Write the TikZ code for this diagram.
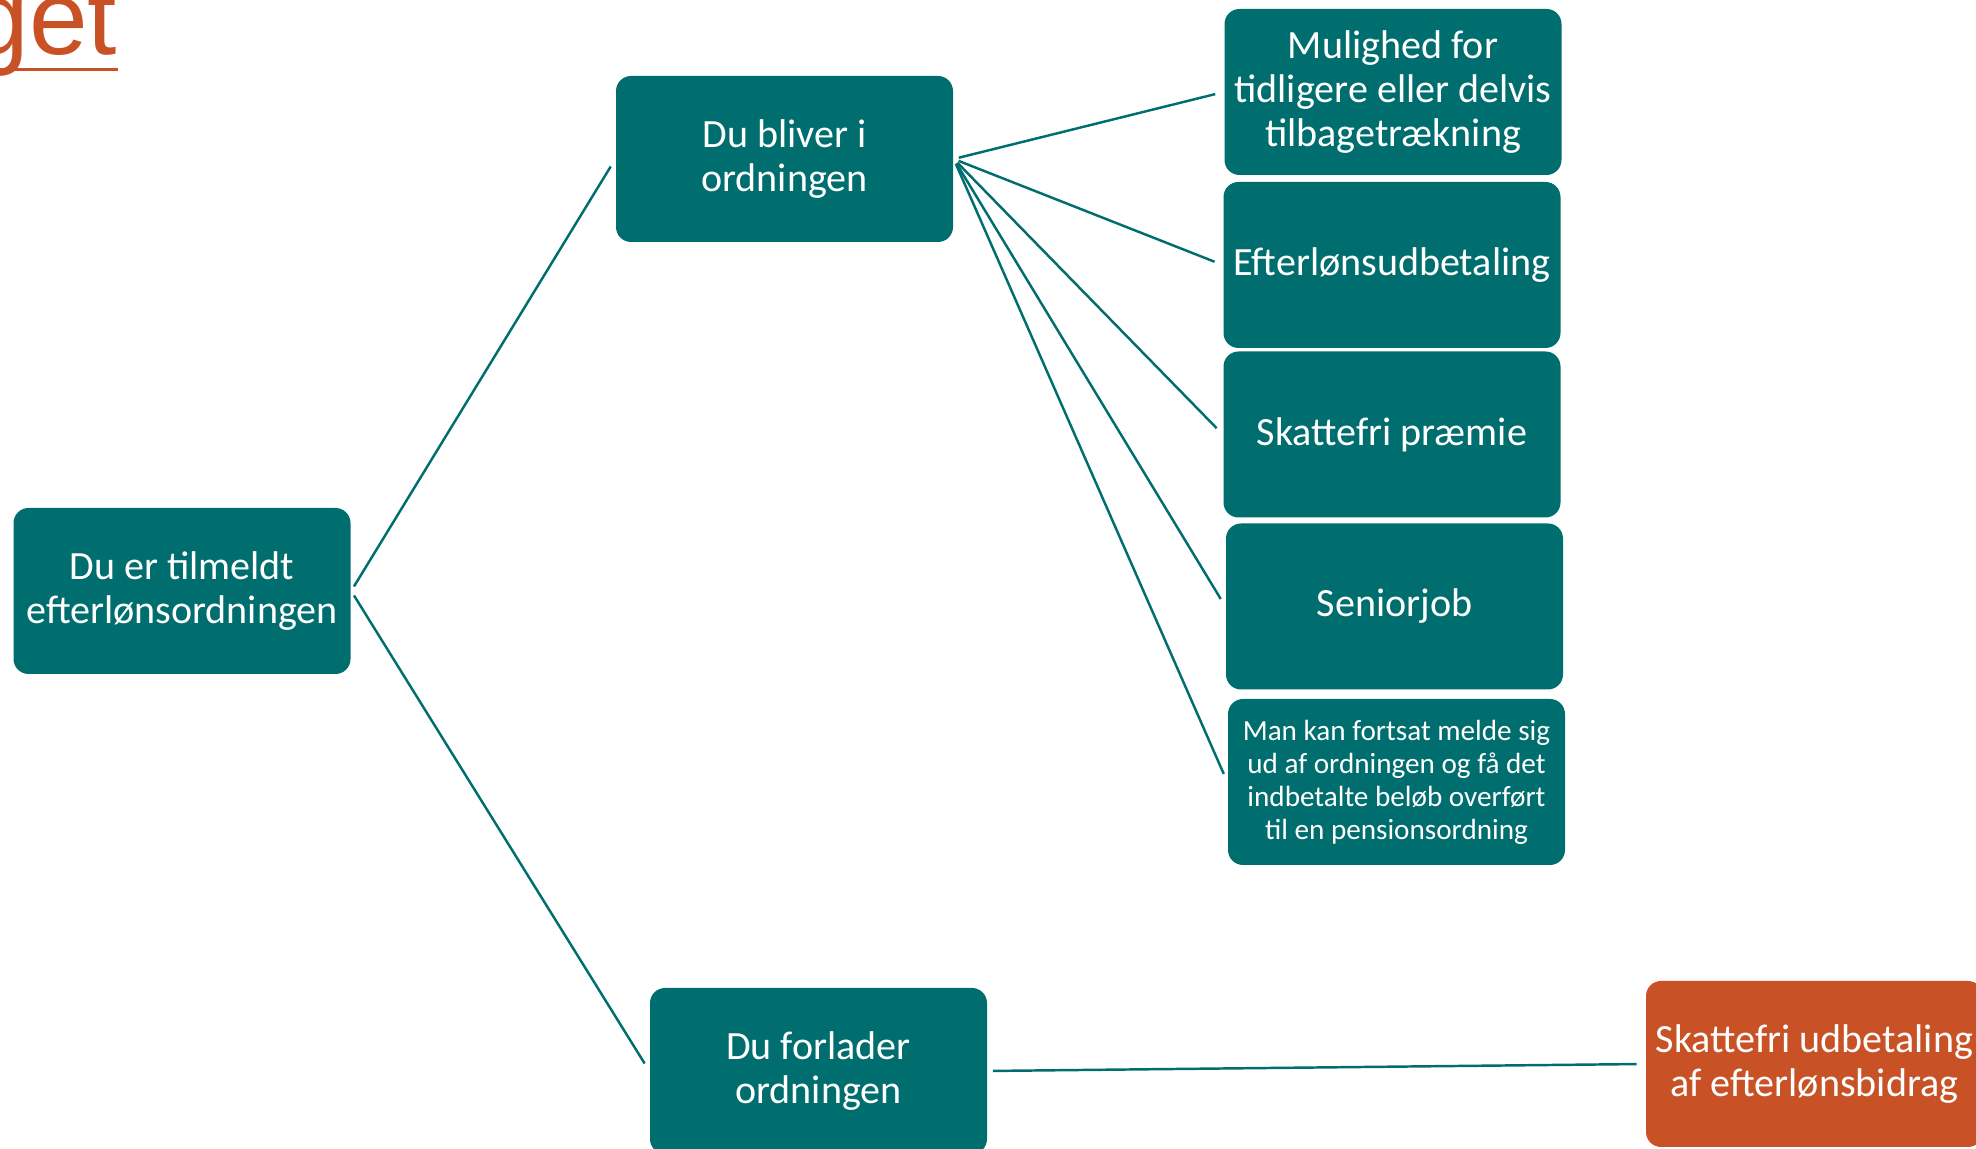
\documentclass[tikz,border=0pt]{standalone}
\usepackage{fontspec}
\setmainfont{Carlito}
\newfontfamily\titlefont{Liberation Sans}
\usetikzlibrary{positioning}
\definecolor{tealfill}{RGB}{0,110,110}
\definecolor{rustfill}{RGB}{201,81,38}
\tikzset{
	box/.style={rectangle, rounded corners=0.15cm, fill=tealfill, text=white, align=center,
		minimum width=3.37cm, minimum height=1.66cm, inner sep=2pt, font=\fontsize{11.4}{12.6}\selectfont},
	smallbox/.style={box, font=\fontsize{8.3}{9.4}\selectfont},
	rustbox/.style={box, fill=rustfill},
	link/.style={draw=tealfill, line width=0.7pt, shorten <=1.5pt, shorten >=2.5pt}
}

\begin{document}
\begin{tikzpicture}
			%%%%% START %%%%%
			
			\useasboundingbox (0, 0) rectangle (19.76, 11.49);
			
			\node[anchor=base east, inner sep=0pt, text=rustfill, font=\titlefont\fontsize{30}{36}\selectfont] (title) at (1.18, 10.94) {get};
			\draw[draw=rustfill, line width=1.1pt] (-0.5, 10.795) -- ([yshift=-0.145cm]title.base east);
			
			\node[box] (root) at (1.82, 5.58) {Du er tilmeldt\\efterlønsordningen};
			
			\node[box] (stay) at (7.845, 9.90) {Du bliver i\\ordningen};
			\node[box] (leave) at (8.185, 0.78) {Du forlader\\ordningen};
			
			\node[box] (early) at (13.93, 10.57) {Mulighed for\\tidligere eller delvis\\tilbagetrækning};
			\node[box] (payout) at (13.92, 8.84) {Efterlønsudbetaling};
			\node[box] (bonus) at (13.92, 7.145) {Skattefri præmie};
			\node[box] (senior) at (13.945, 5.425) {Seniorjob};
			\node[smallbox] (optout) at (13.965, 3.67) {Man kan fortsat melde sig\\ud af ordningen og få det\\indbetalte beløb overført\\til en pensionsordning};
			
			\node[rustbox] (refund) at (18.145, 0.85) {Skattefri udbetaling\\af efterlønsbidrag};
			
			\draw[link] (root.east) -- (stay.west);
			\draw[link] (root.east) -- (leave.west);
			
			\draw[link] (stay.east) -- (early.west);
			\draw[link] (stay.east) -- (payout.west);
			\draw[link] (stay.east) -- (bonus.west);
			\draw[link] (stay.east) -- (senior.west);
			\draw[link] (stay.east) -- (optout.west);
			
			\draw[link] (leave.east) -- (refund.west);
			
			%%%%% END %%%%%
\end{tikzpicture}
\end{document}
